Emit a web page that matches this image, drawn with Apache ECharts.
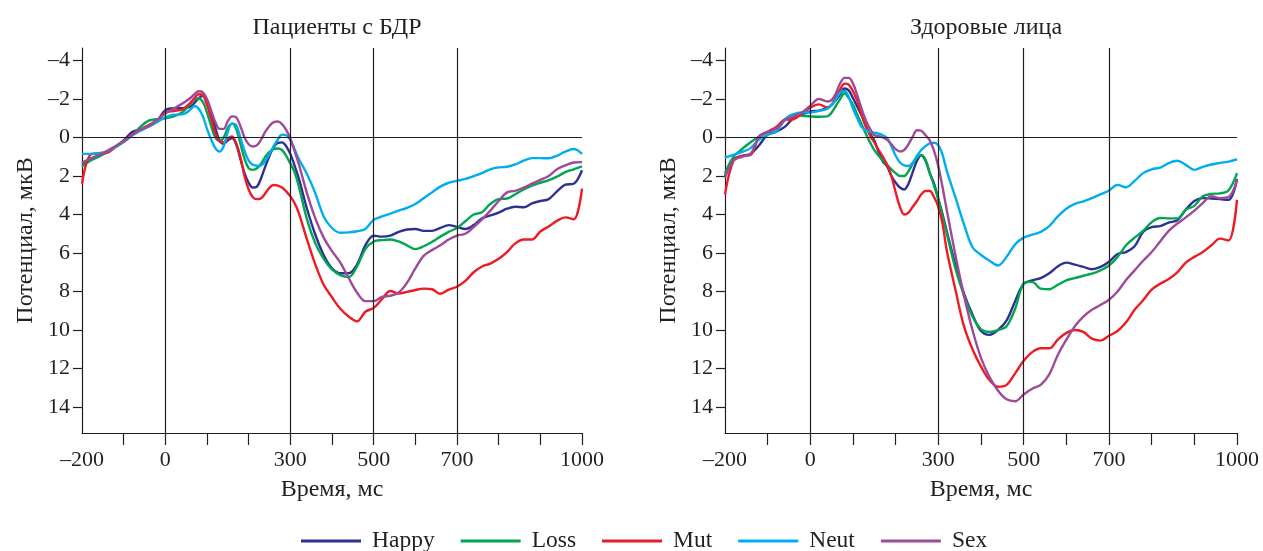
<!DOCTYPE html>
<html><head><meta charset="utf-8">
<script src="https://cdn.jsdelivr.net/npm/echarts@6/dist/echarts.min.js"></script>
<style>html,body{margin:0;padding:0;background:#fff}#c{width:1263px;height:551px}</style>
</head><body><div id="c"></div>
<script>
// time points (ms)
const times = [-200,-180,-160,-140,-120,-100,-80,-60,-40,-20,0,20,40,
  50,60,70,80,90,100,110,120,130,140,150,160,170,180,190,200,210,220,230,240,250,260,270,280,290,300,310,320,
  340,360,380,400,420,440,460,480,500,520,540,560,580,600,620,640,660,680,700,720,740,760,780,800,820,840,860,880,900,920,940,960,980,1000];

const seriesNames = ['Happy','Loss','Mut','Neut','Sex'];
const seriesColors = ['#2e3192','#00a651','#ed1c24','#00aeef','#9e4a98'];
const panelTitles = ['Пациенты с БДР','Здоровые лица'];
const xAxisName = 'Время, мс';
const yAxisName = 'Потенциал, мкВ';
const yTickValues = [-4,-2,0,2,4,6,8,10,12,14];
const xLabelValues = [-200,0,300,500,700,1000];
const xTickValues = [-100,0,100,200,300,400,500,600,700,800,900,1000];
const refTimes = [0,300,500,700];

// Panel 1: patients (µV)
const patHappy = [1.4,1.15,0.95,0.75,0.47,0.15,-0.28,-0.42,-0.57,-0.85,-1.42,-1.52,-1.52,
  -1.55,-1.6,-1.8,-2.05,-2.17,-1.9,-1.3,-0.5,0.15,0.33,0.15,0.03,0.35,1.1,1.85,2.35,2.6,2.55,2.1,1.5,0.95,0.5,0.28,0.25,0.45,0.85,1.45,2.1,
  3.7,5.05,6.1,6.8,7.05,7.05,6.6,5.6,5.1,5.15,5.1,4.9,4.78,4.75,4.85,4.85,4.7,4.55,4.65,4.75,4.55,4.2,4.05,3.9,3.7,3.6,3.62,3.42,3.3,3.2,2.8,2.45,2.4,1.7];
const patLoss = [1.5,1.2,1.0,0.75,0.5,0.22,-0.1,-0.55,-0.88,-0.95,-1.0,-1.1,-1.3,
  -1.5,-1.75,-1.97,-2.04,-1.85,-1.3,-0.6,0.0,0.18,0.0,-0.5,-0.72,-0.45,0.3,1.1,1.6,1.68,1.6,1.35,1.0,0.75,0.6,0.57,0.65,0.95,1.35,1.8,2.5,
  4.25,5.5,6.3,6.85,7.15,7.25,6.7,5.8,5.4,5.33,5.3,5.4,5.6,5.8,5.65,5.42,5.15,4.9,4.7,4.35,4.0,3.88,3.45,3.2,3.17,2.95,2.7,2.5,2.35,2.22,2.03,1.8,1.65,1.5];
const patMut = [2.4,0.9,0.82,0.8,0.5,0.2,-0.15,-0.42,-0.65,-0.88,-1.3,-1.38,-1.45,
  -1.6,-1.8,-2.05,-2.25,-2.2,-1.7,-1.0,-0.2,0.2,0.25,0.05,-0.05,0.3,1.0,2.0,2.7,3.1,3.2,3.15,2.9,2.6,2.47,2.5,2.6,2.8,3.06,3.4,3.9,
  5.3,6.6,7.65,8.3,8.9,9.3,9.55,9.05,8.85,8.4,7.97,8.1,8.02,7.92,7.85,7.88,8.12,7.9,7.75,7.45,7.0,6.7,6.55,6.3,5.95,5.5,5.3,5.3,4.88,4.62,4.33,4.15,4.25,2.65];
const patNeut = [0.85,0.85,0.82,0.72,0.5,0.22,-0.1,-0.35,-0.57,-0.8,-1.05,-1.18,-1.2,
  -1.28,-1.45,-1.64,-1.5,-1.1,-0.45,0.1,0.55,0.73,0.45,-0.3,-0.72,-0.65,0.0,0.7,1.2,1.42,1.47,1.45,1.2,0.85,0.45,0.1,-0.15,-0.12,0.15,0.6,1.1,
  1.9,2.9,4.1,4.7,4.95,4.93,4.87,4.75,4.28,4.1,3.95,3.8,3.65,3.45,3.15,2.85,2.55,2.35,2.25,2.15,2.0,1.85,1.65,1.55,1.52,1.4,1.2,1.07,1.07,1.08,0.95,0.73,0.6,0.85];
const patSex = [1.3,1.1,0.9,0.7,0.45,0.2,-0.12,-0.4,-0.6,-0.9,-1.25,-1.5,-1.75,
  -1.9,-2.05,-2.25,-2.4,-2.35,-2.0,-1.4,-0.8,-0.45,-0.45,-0.85,-1.1,-1.05,-0.6,0.0,0.35,0.47,0.4,0.1,-0.3,-0.6,-0.8,-0.83,-0.7,-0.4,0.05,0.7,1.35,
  2.9,4.2,5.2,5.9,6.5,7.3,8.05,8.5,8.5,8.28,8.22,8.05,7.55,6.8,6.15,5.85,5.6,5.3,5.1,5.0,4.65,4.25,3.8,3.3,2.85,2.77,2.6,2.4,2.2,2.0,1.65,1.45,1.3,1.28];

// Panel 2: healthy controls (µV)
const ctlHappy = [2.0,1.15,0.95,0.85,0.4,-0.15,-0.3,-0.55,-1.0,-1.2,-1.35,-1.4,-1.55,
  -1.7,-1.95,-2.25,-2.55,-2.45,-2.05,-1.6,-1.15,-0.6,-0.2,0.15,0.75,1.25,1.5,2.0,2.35,2.6,2.7,2.4,1.8,1.2,0.92,1.2,1.85,2.4,3.2,4.0,4.9,
  6.6,8.1,9.2,10.05,10.25,10.0,9.5,8.5,7.6,7.42,7.3,7.05,6.7,6.5,6.6,6.72,6.84,6.72,6.45,6.05,5.95,5.65,4.9,4.65,4.6,4.42,4.3,3.75,3.3,3.15,3.17,3.2,3.24,2.16];
const ctlLoss = [1.85,1.0,0.6,0.25,-0.05,-0.3,-0.5,-0.95,-1.18,-1.13,-1.1,-1.08,-1.1,
  -1.3,-1.65,-2.0,-2.3,-2.05,-1.7,-1.2,-0.7,-0.2,0.25,0.65,0.95,1.2,1.42,1.65,1.85,2.0,2.0,1.75,1.35,1.05,0.9,1.15,1.85,2.5,3.2,4.1,5.0,
  6.8,8.2,9.3,9.95,10.1,10.0,9.8,8.9,7.6,7.5,7.85,7.88,7.65,7.42,7.3,7.18,7.07,6.9,6.65,6.2,5.6,5.2,4.85,4.4,4.18,4.2,4.2,3.75,3.55,3.05,2.93,2.9,2.75,1.85];
const ctlMut = [2.95,1.2,0.95,0.9,-0.05,-0.3,-0.55,-0.92,-0.95,-1.25,-1.55,-1.72,-1.55,
  -1.7,-2.15,-2.5,-2.8,-2.75,-2.4,-1.9,-1.2,-0.6,-0.1,0.25,0.65,1.0,1.42,2.0,2.85,3.6,4.0,3.9,3.6,3.3,2.95,2.78,2.78,3.1,3.6,4.5,5.9,
  7.9,9.8,11.0,11.9,12.6,12.95,12.85,12.25,11.6,11.15,10.95,10.95,10.5,10.15,10.0,10.1,10.45,10.55,10.3,10.05,9.6,8.95,8.45,7.9,7.6,7.35,7.0,6.5,6.2,5.95,5.6,5.25,5.35,3.24];
const ctlNeut = [1.05,0.9,0.75,0.55,0.1,-0.15,-0.3,-0.9,-1.2,-1.3,-1.3,-1.38,-1.5,
  -1.7,-2.0,-2.35,-2.42,-2.1,-1.5,-1.0,-0.55,-0.38,-0.3,-0.25,-0.2,-0.12,0.03,0.45,0.95,1.3,1.45,1.48,1.3,0.95,0.65,0.45,0.3,0.27,0.4,0.9,1.75,
  3.1,4.5,5.7,6.1,6.4,6.65,6.2,5.55,5.2,5.05,4.9,4.6,4.1,3.7,3.45,3.32,3.15,2.95,2.75,2.46,2.58,2.25,1.85,1.65,1.57,1.33,1.21,1.42,1.68,1.52,1.4,1.32,1.25,1.13];
const ctlSex = [2.1,1.2,1.0,0.85,-0.05,-0.3,-0.45,-0.9,-1.1,-1.3,-1.65,-2.0,-1.87,
  -1.95,-2.3,-2.82,-3.1,-3.1,-2.8,-2.2,-1.5,-0.9,-0.45,-0.12,-0.07,0.0,0.12,0.35,0.6,0.73,0.65,0.35,-0.05,-0.38,-0.35,-0.12,0.15,0.7,1.5,2.6,3.8,
  6.1,8.2,10.0,11.45,12.45,13.15,13.6,13.7,13.35,13.05,12.85,12.3,11.3,10.5,9.8,9.3,8.95,8.7,8.43,8.0,7.4,6.9,6.4,5.95,5.4,4.85,4.47,4.15,3.8,3.4,3.05,3.15,3.1,2.2];

const panels = [
  [patHappy, patLoss, patMut, patNeut, patSex],
  [ctlHappy, ctlLoss, ctlMut, ctlNeut, ctlSex]
];

const FONT = 'Liberation Serif';
const INK = '#231f20';
const gridBoxes = [
  {left: 82, top: 48, width: 500, height: 385},
  {left: 725, top: 48, width: 512, height: 385}
];
const fmt = v => v < 0 ? '\u2013' + Math.abs(v) : String(v);

const option = {
  animation: false,
  backgroundColor: '#fff',
  title: panelTitles.map((t, i) => ({
    text: t,
    left: gridBoxes[i].left + gridBoxes[i].width / 2,
    top: 11,
    textAlign: 'center',
    textStyle: {fontFamily: FONT, fontSize: 24, fontWeight: 'normal', color: INK}
  })),
  legend: {
    data: seriesNames,
    left: 296, top: 524,
    icon: 'rect', itemWidth: 60, itemHeight: 3, itemGap: 26,
    selectedMode: false,
    textStyle: {fontFamily: FONT, fontSize: 23.5, color: INK, padding: [0, 0, 0, 6]}
  },
  grid: gridBoxes.map(g => Object.assign({containLabel: false}, g)),
  xAxis: gridBoxes.map((g, i) => ({
    type: 'value', gridIndex: i, min: -200, max: 1000,
    name: xAxisName, nameLocation: 'middle', nameGap: 45,
    nameTextStyle: {fontFamily: FONT, fontSize: 24, color: INK},
    axisLine: {show: true, onZero: false, lineStyle: {color: INK, width: 1.2}},
    axisTick: {show: true, inside: false, length: 12, customValues: xTickValues, lineStyle: {color: INK, width: 1.2}},
    axisLabel: {customValues: xLabelValues, formatter: fmt, fontFamily: FONT, fontSize: 22, color: INK, margin: 16},
    splitLine: {show: false}
  })),
  yAxis: gridBoxes.map((g, i) => ({
    type: 'value', gridIndex: i, inverse: true, min: -4.65, max: 15.35,
    name: yAxisName, nameLocation: 'middle', nameGap: 44,
    nameTextStyle: {fontFamily: FONT, fontSize: 24, color: INK},
    axisLine: {show: true, onZero: false, lineStyle: {color: INK, width: 1.2}},
    axisTick: {show: true, inside: false, length: 9, customValues: yTickValues, lineStyle: {color: INK, width: 1.2}},
    axisLabel: {customValues: yTickValues, formatter: fmt, fontFamily: FONT, fontSize: 22, color: INK, margin: 12},
    splitLine: {show: false}
  })),
  series: []
};

panels.forEach((arrs, p) => {
  arrs.forEach((arr, i) => {
    const s = {
      name: seriesNames[i], type: 'line', xAxisIndex: p, yAxisIndex: p,
      data: times.map((t, k) => [t, arr[k]]),
      showSymbol: false, symbol: 'none', smooth: 0.35,
      lineStyle: {color: seriesColors[i], width: 2.4},
      itemStyle: {color: seriesColors[i]},
      z: 3
    };
    if (i === 0) {
      s.markLine = {
        silent: true, symbol: ['none', 'none'], label: {show: false},
        lineStyle: {color: INK, width: 1.2, type: 'solid'},
        data: refTimes.map(t => ({xAxis: t})).concat([{yAxis: 0}])
      };
    }
    option.series.push(s);
  });
});

const chart = echarts.init(document.getElementById('c'), null, {renderer: 'canvas'});
chart.setOption(option);
</script>
</body></html>
